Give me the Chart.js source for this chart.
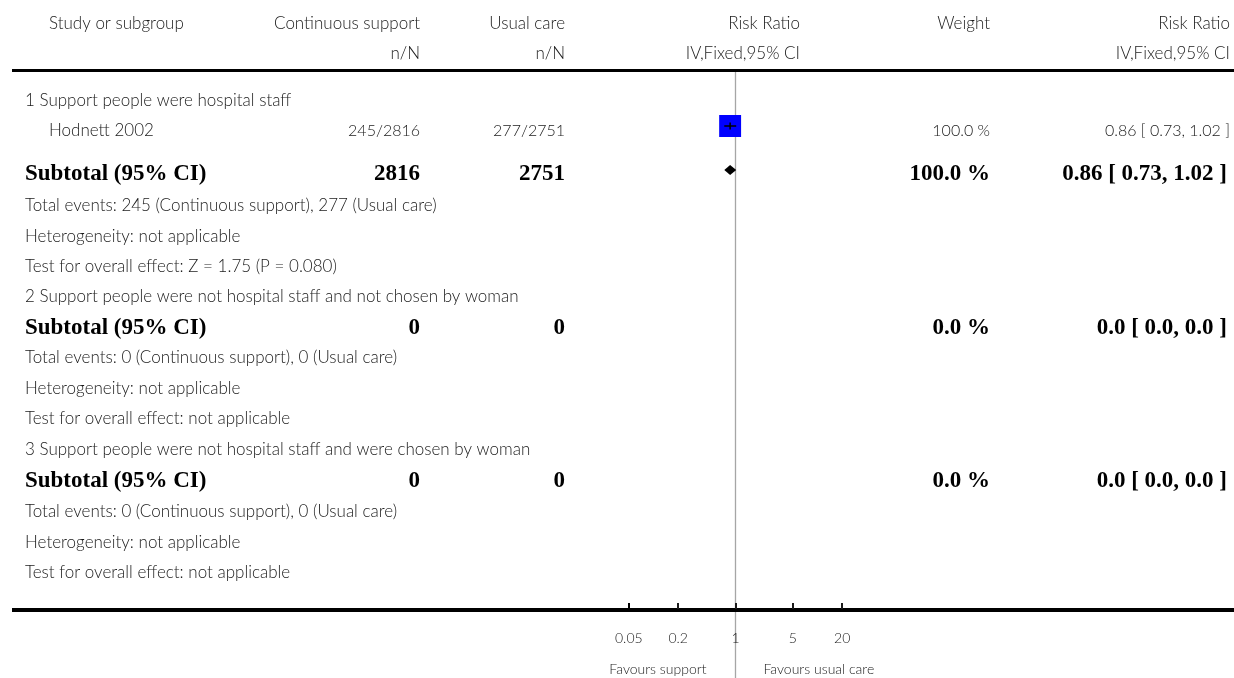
<!DOCTYPE html>
<html><head><meta charset="utf-8">
<script src="https://cdn.jsdelivr.net/npm/chart.js@4.4.1/dist/chart.umd.min.js"></script>
<style>html,body{margin:0;padding:0;background:#fff}#wrap{width:1234px;height:678px;position:relative}</style>
</head><body><div id="wrap"><canvas id="c" width="1234" height="678"></canvas></div>
<script>
// ---- data ----
const groupTitles = [
  "1 Support people were hospital staff",
  "2 Support people were not hospital staff and not chosen by woman",
  "3 Support people were not hospital staff and were chosen by woman"
];
const studyNames = ["Hodnett 2002"];
const studyGroup = [0];
const supportEvents = [245];
const supportTotal = [2816];
const careEvents = [277];
const careTotal = [2751];
const studyRR = [0.86];
const studyLow = [0.73];
const studyHigh = [1.02];
const studyWeight = [100.0];
const subtotalSupportN = [2816, 0, 0];
const subtotalCareN = [2751, 0, 0];
const subtotalWeight = [100.0, 0.0, 0.0];
const subtotalRR = [0.86, 0.0, 0.0];
const subtotalLow = [0.73, 0.0, 0.0];
const subtotalHigh = [1.02, 0.0, 0.0];
const totalEventsSupport = [245, 0, 0];
const totalEventsCare = [277, 0, 0];
const heterogeneity = ["not applicable", "not applicable", "not applicable"];
const overallEffect = ["Z = 1.75 (P = 0.080)", "not applicable", "not applicable"];
const axisTicks = [0.05, 0.2, 1, 5, 20];
const tickLabels = ["0.05", "0.2", "1", "5", "20"];
const favoursLabels = ["Favours support", "Favours usual care"];
const headerTop = ["Study or subgroup", "Continuous support", "Usual care", "Risk Ratio", "Weight", "Risk Ratio"];
const headerSub = ["n/N", "n/N", "IV,Fixed,95% CI", "IV,Fixed,95% CI"];

// ---- layout (pixel rows, not data) ----
const rowY = [101, 131, 173, 206, 237, 267, 297, 327, 358, 389, 419, 450, 480, 512, 543, 573];
const GLYPH_SHIFT = -5;   // study marks sit slightly above the text centre
const COL = {label: 25, study: 49, n1: 420, n2: 565, rr: 800, w: 990, ci: 1230, ciBold: 1227};
const REG = '300 17px Lato';
const NUM = '300 16px Lato';
const SMALL = '300 14px Lato';
const BOLD = 'bold 23px "Liberation Serif"';
const TXT = '#1a1a1a';

function fmt2(v){return v.toFixed(2);}
function ciText(rr, lo, hi, zero){
  if (zero) return rr.toFixed(1) + ' [ ' + lo.toFixed(1) + ', ' + hi.toFixed(1) + ' ]';
  return fmt2(rr) + ' [ ' + fmt2(lo) + ', ' + fmt2(hi) + ' ]';
}

// build rows
const rows = [];
let ri = 0;
for (let g = 0; g < groupTitles.length; g++) {
  rows.push({type: 'group', g, y: rowY[ri++]});
  for (let s = 0; s < studyNames.length; s++) if (studyGroup[s] === g) rows.push({type: 'study', s, y: rowY[ri++]});
  rows.push({type: 'subtotal', g, y: rowY[ri++]});
  rows.push({type: 'events', g, y: rowY[ri++]});
  rows.push({type: 'het', g, y: rowY[ri++]});
  rows.push({type: 'test', g, y: rowY[ri++]});
}
const studyRows = rows.filter(r => r.type === 'study');

const ciData = [];
const ciRadius = [];
studyRows.forEach(r => {
  const gy = r.y + GLYPH_SHIFT;
  ciData.push({x: studyLow[r.s], y: gy}, {x: studyRR[r.s], y: gy}, {x: studyHigh[r.s], y: gy});
  ciRadius.push(0, 3.5, 0);
});
const squareData = studyRows.map(r => ({x: studyRR[r.s], y: r.y + GLYPH_SHIFT}));

function txt(ctx, s, x, y, align, font, color){
  ctx.font = font; ctx.textAlign = align; ctx.textBaseline = 'middle';
  ctx.fillStyle = color || TXT; ctx.fillText(s, x, y);
}

const forestPlugin = {
  id: 'forest',
  beforeDatasetsDraw(chart){
    const ctx = chart.ctx, xs = chart.scales.x;
    const x1 = xs.getPixelForValue(1);
    ctx.save();
    ctx.strokeStyle = '#a6a6a6'; ctx.lineWidth = 1.3;
    ctx.beginPath(); ctx.moveTo(x1, 72); ctx.lineTo(x1, 678); ctx.stroke();
    ctx.restore();
  },
  afterDraw(chart){
    const ctx = chart.ctx, xs = chart.scales.x, ys = chart.scales.y;
    ctx.save();
    // header
    txt(ctx, headerTop[0], COL.study, 24, 'left', REG);
    txt(ctx, headerTop[1], COL.n1, 24, 'right', REG);
    txt(ctx, headerTop[2], COL.n2, 24, 'right', REG);
    txt(ctx, headerTop[3], COL.rr, 24, 'right', REG);
    txt(ctx, headerTop[4], COL.w, 24, 'right', REG);
    txt(ctx, headerTop[5], COL.ci, 24, 'right', REG);
    txt(ctx, headerSub[0], COL.n1, 54, 'right', REG);
    txt(ctx, headerSub[1], COL.n2, 54, 'right', REG);
    txt(ctx, headerSub[2], COL.rr, 54, 'right', REG);
    txt(ctx, headerSub[3], COL.ci, 54, 'right', REG);
    // rules
    ctx.fillStyle = '#000';
    ctx.fillRect(12, 69, 1222, 3);
    ctx.fillRect(12, 608, 1222, 4);
    // rows
    rows.forEach(r => {
      const y = ys.getPixelForValue(r.y);
      if (r.type === 'group') txt(ctx, groupTitles[r.g], COL.label, y, 'left', REG);
      else if (r.type === 'study') {
        const s = r.s;
        txt(ctx, studyNames[s], COL.study, y, 'left', REG);
        txt(ctx, supportEvents[s] + '/' + supportTotal[s], COL.n1, y, 'right', NUM);
        txt(ctx, careEvents[s] + '/' + careTotal[s], COL.n2, y, 'right', NUM);
        txt(ctx, studyWeight[s].toFixed(1) + ' %', COL.w, y, 'right', NUM);
        txt(ctx, ciText(studyRR[s], studyLow[s], studyHigh[s], false), COL.ci, y, 'right', NUM);
      } else if (r.type === 'subtotal') {
        const g = r.g, zero = subtotalSupportN[g] === 0 && subtotalCareN[g] === 0;
        txt(ctx, 'Subtotal (95% CI)', COL.label, y + 1, 'left', BOLD, '#000');
        txt(ctx, String(subtotalSupportN[g]), COL.n1, y + 1, 'right', BOLD, '#000');
        txt(ctx, String(subtotalCareN[g]), COL.n2, y + 1, 'right', BOLD, '#000');
        txt(ctx, subtotalWeight[g].toFixed(1) + ' %', COL.w, y + 1, 'right', BOLD, '#000');
        txt(ctx, ciText(subtotalRR[g], subtotalLow[g], subtotalHigh[g], zero), COL.ciBold, y + 1, 'right', BOLD, '#000');
        if (!zero) {
          const xl = xs.getPixelForValue(subtotalLow[g]);
          const xm = xs.getPixelForValue(subtotalRR[g]);
          const xh = xs.getPixelForValue(subtotalHigh[g]);
          ctx.fillStyle = '#000';
          ctx.beginPath();
          ctx.moveTo(xl, y - 3); ctx.lineTo(xm, y - 8); ctx.lineTo(xh, y - 3); ctx.lineTo(xm, y + 2);
          ctx.closePath(); ctx.fill();
        }
      } else if (r.type === 'events') {
        txt(ctx, 'Total events: ' + totalEventsSupport[r.g] + ' (Continuous support), ' + totalEventsCare[r.g] + ' (Usual care)', COL.label, y, 'left', REG);
      } else if (r.type === 'het') {
        txt(ctx, 'Heterogeneity: ' + heterogeneity[r.g], COL.label, y, 'left', REG);
      } else if (r.type === 'test') {
        txt(ctx, 'Test for overall effect: ' + overallEffect[r.g], COL.label, y, 'left', REG);
      }
    });
    // axis ticks
    ctx.fillStyle = '#000';
    axisTicks.forEach((t, i) => {
      const x = xs.getPixelForValue(t);
      ctx.fillRect(Math.round(x) - 1, 603, 2, 6);
      txt(ctx, tickLabels[i], x, 638, 'center', SMALL);
    });
    const x1 = xs.getPixelForValue(1);
    txt(ctx, favoursLabels[0], x1 - 29, 669, 'right', SMALL);
    txt(ctx, favoursLabels[1], x1 + 28, 669, 'left', SMALL);
    ctx.restore();
  }
};

new Chart(document.getElementById('c'), {
  type: 'scatter',
  data: {
    datasets: [
      {
        label: 'CI', data: ciData, showLine: true, borderColor: '#000', borderWidth: 1.5,
        pointRadius: ciRadius, pointStyle: 'line', rotation: 90, pointBorderColor: '#000', pointBorderWidth: 1.5,
        order: 0
      },
      {
        label: 'Weight', data: squareData, pointStyle: 'rect', pointRadius: 15.5,
        backgroundColor: '#0000ff', borderWidth: 0, order: 1
      }
    ]
  },
  options: {
    responsive: false, animation: false,
    layout: {autoPadding: false, padding: {left: 571.5, right: 334.5, top: 0, bottom: 0}},
    scales: {
      x: {type: 'logarithmic', min: 0.01, max: 100, display: false},
      y: {type: 'linear', min: 0, max: 678, reverse: true, display: false}
    },
    plugins: {legend: {display: false}, tooltip: {enabled: false}}
  },
  plugins: [forestPlugin]
});
</script>
</body></html>
